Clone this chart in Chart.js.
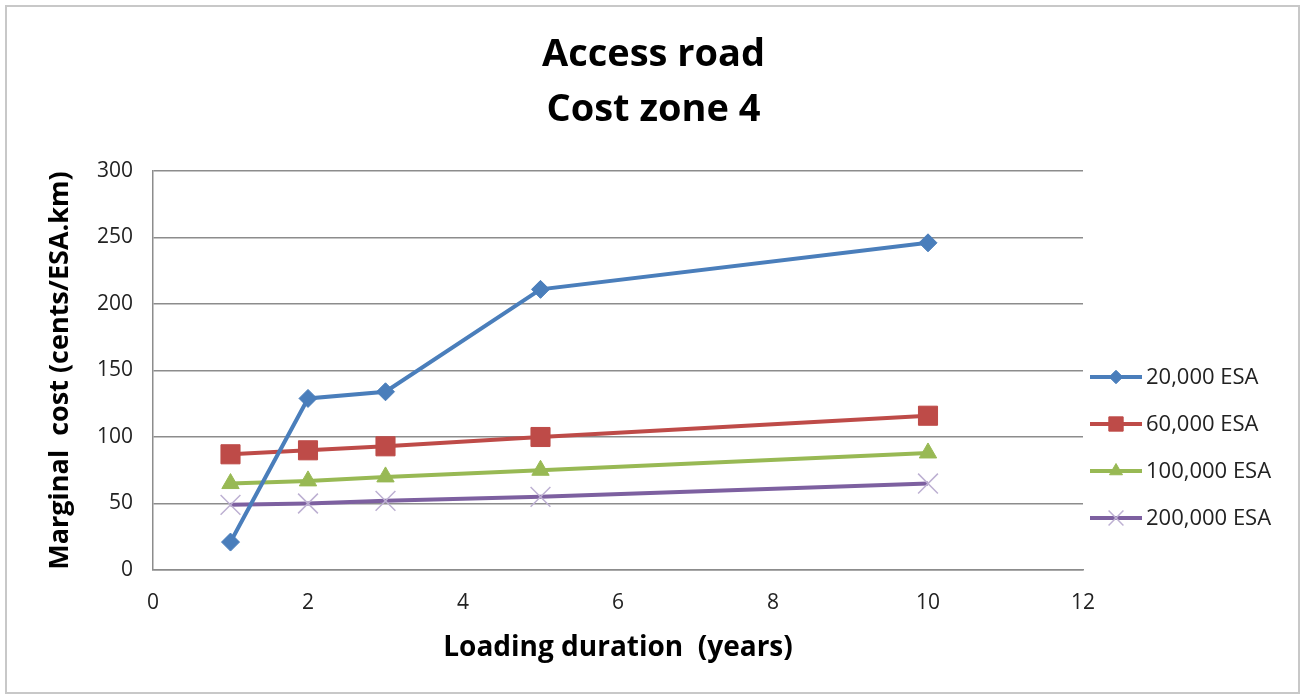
<!DOCTYPE html>
<html>
<head>
<meta charset="utf-8">
<script src="https://cdn.jsdelivr.net/npm/chart.js@4.4.1/dist/chart.umd.min.js"></script>
<style>
  html, body { margin: 0; padding: 0; background: #ffffff; }
  #wrap { position: relative; width: 1303px; height: 697px; }
  #frame { position: absolute; left: 5px; top: 5px; width: 1291px; height: 685px; border: 2px solid #c8c8c8; pointer-events: none; }
  canvas { position: absolute; left: 0; top: 0; }
</style>
</head>
<body>
<div id="wrap">
  <canvas id="c" width="1303" height="697"></canvas>
  <div id="frame"></div>
</div>
<script>
const titleLines = ['Access road', 'Cost zone 4'];
const xAxisTitle = 'Loading duration  (years)';
const yAxisTitle = 'Marginal  cost (cents/ESA.km)';
const years = [1, 2, 3, 5, 10];
const seriesNames = ['20,000 ESA', '60,000 ESA', '100,000 ESA', '200,000 ESA'];
const esa20k = [21, 129, 134, 211, 246];
const esa60k = [87, 90, 93, 100, 116];
const esa100k = [65, 67, 70, 75, 88];
const esa200k = [49, 50, 52, 55, 65];
const xTicks = [0, 2, 4, 6, 8, 10, 12];
const yTicks = [0, 50, 100, 150, 200, 250, 300];

const FONT = '"Open Sans", "Liberation Sans", sans-serif';

const styles = [
  { color: '#4A7EBB', point: 'rectRot', radius: 9, pointColor: '#4A7EBB', pointBorder: '#4A7EBB', pbw: 1 },
  { color: '#BE4B48', point: 'rect', radius: 13.5, pointColor: '#BE4B48', pointBorder: '#BE4B48', pbw: 1 },
  { color: '#98B954', point: 'triangle', radius: 10, pointColor: '#98B954', pointBorder: '#98B954', pbw: 1 },
  { color: '#7D60A0', point: 'crossRot', radius: 14, pointColor: '#BDB0D2', pointBorder: '#BDB0D2', pbw: 1.5 }
];
const values = [esa20k, esa60k, esa100k, esa200k];

const datasets = values.map((vals, i) => ({
  label: seriesNames[i],
  data: years.map((x, j) => ({ x: x, y: vals[j] })),
  borderColor: styles[i].color,
  backgroundColor: styles[i].pointColor,
  borderWidth: 4,
  pointStyle: styles[i].point,
  pointRadius: styles[i].radius,
  pointHoverRadius: styles[i].radius,
  pointBackgroundColor: styles[i].pointColor,
  pointBorderColor: styles[i].pointBorder,
  pointBorderWidth: styles[i].pbw,
  tension: 0,
  order: i
}));

const centerTitle = {
  id: 'centerTitle',
  afterDraw(chart) {
    const ctx = chart.ctx;
    ctx.save();
    ctx.fillStyle = '#000000';
    ctx.font = 'bold 38px ' + FONT;
    ctx.textAlign = 'center';
    ctx.textBaseline = 'middle';
    titleLines.forEach((t, i) => ctx.fillText(t, chart.width / 2 + 2, 55 + i * 55));
    ctx.restore();
  }
};

const lineLegend = {
  id: 'lineLegend',
  afterDraw(chart) {
    const ctx = chart.ctx;
    const x0 = chart.chartArea.right + 7;
    const lineLen = 52;
    const yStart = 377;
    const gap = 47;
    ctx.save();
    chart.data.datasets.forEach((ds, i) => {
      const y = yStart + i * gap;
      ctx.strokeStyle = ds.borderColor;
      ctx.lineWidth = 4;
      ctx.beginPath();
      ctx.moveTo(x0, y);
      ctx.lineTo(x0 + lineLen, y);
      ctx.stroke();
      ctx.fillStyle = ds.pointBackgroundColor;
      ctx.strokeStyle = ds.pointBorderColor;
      ctx.lineWidth = ds.pointBorderWidth;
      Chart.helpers.drawPoint(ctx, { pointStyle: ds.pointStyle, radius: ds.pointRadius * 0.75, borderWidth: ds.pointBorderWidth, rotation: 0 }, x0 + lineLen / 2, y);
      ctx.fillStyle = '#222222';
      ctx.font = '22px ' + FONT;
      ctx.textBaseline = 'middle';
      ctx.textAlign = 'left';
      ctx.fillText(ds.label, x0 + lineLen + 4, y + 1);
    });
    ctx.restore();
  }
};

new Chart(document.getElementById('c'), {
  type: 'scatter',
  data: { datasets: datasets },
  plugins: [centerTitle, lineLegend],
  options: {
    responsive: false,
    animation: false,
    showLine: true,
    layout: { padding: { left: 0, right: 220, top: 171, bottom: 0 } },
    plugins: {
      legend: { display: false },
      tooltip: { enabled: false },
      title: { display: false }
    },
    scales: {
      x: {
        type: 'linear',
        min: 0, max: 12,
        afterBuildTicks(scale) { scale.ticks = xTicks.map(v => ({ value: v })); },
        afterFit(scale) { scale.height = 127; },
        grid: { display: true, drawOnChartArea: false, drawTicks: false, color: '#8c8c8c' },
        border: { display: true, color: '#8c8c8c', width: 1.5 },
        ticks: { color: '#222222', font: { family: FONT, size: 21 }, padding: 20, maxRotation: 0 },
        title: {
          display: true,
          text: xAxisTitle,
          color: '#000000',
          font: { family: FONT, size: 28, weight: 'bold', lineHeight: 1.2 },
          padding: { top: 0, bottom: 32 }
        }
      },
      y: {
        type: 'linear',
        min: 0, max: 300,
        afterBuildTicks(scale) { scale.ticks = yTicks.map(v => ({ value: v })); },
        afterFit(scale) { scale.width = 153; },
        grid: { color: '#8c8c8c', lineWidth: 1.5, drawTicks: false },
        border: { display: true, color: '#8c8c8c', width: 1.5 },
        ticks: { color: '#222222', font: { family: FONT, size: 21 }, padding: 20 },
        title: {
          display: true,
          text: yAxisTitle,
          color: '#000000',
          font: { family: FONT, size: 27, weight: 'bold', lineHeight: 1.2 },
          padding: { top: 44, bottom: 0 }
        }
      }
    }
  }
});
</script>
</body>
</html>
